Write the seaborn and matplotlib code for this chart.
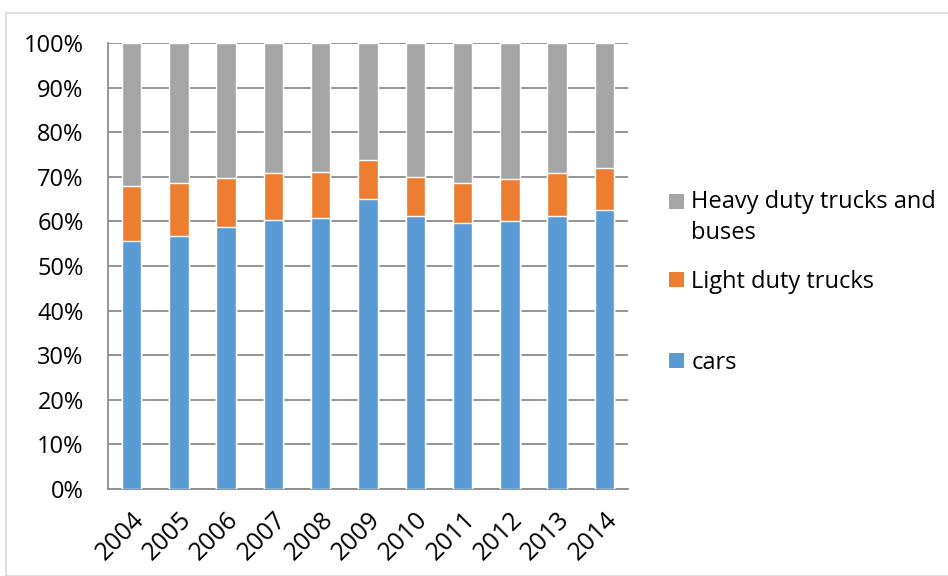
import matplotlib
matplotlib.use("Agg")
import matplotlib.pyplot as plt
import seaborn as sns
import pandas as pd
import numpy as np
from matplotlib.patches import Patch, Rectangle
from matplotlib.legend_handler import HandlerPatch

years = ["2004", "2005", "2006", "2007", "2008", "2009", "2010", "2011", "2012", "2013", "2014"]
cars = [55.5, 56.7, 58.8, 60.4, 60.8, 65.0, 61.1, 59.7, 60.0, 61.3, 62.5]
light_trucks = [12.5, 11.8, 10.9, 10.5, 10.3, 8.7, 8.8, 8.9, 9.4, 9.6, 9.5]
heavy_trucks = [32.0, 31.5, 30.3, 29.1, 28.9, 26.3, 30.1, 31.4, 30.6, 29.1, 28.0]

series_names = ["Heavy duty trucks and\nbuses", "Light duty trucks", "cars"]
colors = ["#A5A5A5", "#ED7D31", "#5B9BD5"]

sns.set_style("white")
plt.rcParams["font.family"] = ["Open Sans", "DejaVu Sans"]
FS = 17

df = pd.DataFrame({"year": years, "cars": cars, "light": light_trucks, "heavy": heavy_trucks})
df["top_light"] = df["cars"] + df["light"]
df["top_heavy"] = df["top_light"] + df["heavy"]

fig = plt.figure(figsize=(9.48, 5.76), dpi=100)
ax = fig.add_axes([108 / 948, 1 - 489 / 576, (628 - 108) / 948, (489 - 43) / 576])

w = 0.41
sns.barplot(data=df, x="year", y="top_heavy", color=colors[0], width=w, saturation=1, ax=ax, zorder=3)
sns.barplot(data=df, x="year", y="top_light", color=colors[1], width=w, saturation=1, ax=ax, zorder=3)
sns.barplot(data=df, x="year", y="cars", color=colors[2], width=w, saturation=1, ax=ax, zorder=3)

ax.set_xlim(-0.5, len(years) - 0.5)
ax.set_ylim(0, 100)
ax.set_yticks(np.arange(0, 101, 10))
ax.set_yticklabels([f"{v}%" for v in range(0, 101, 10)])
ax.yaxis.grid(True, color="#8C8C8C", linewidth=1.3, zorder=0)
ax.set_axisbelow(True)
ax.set_xlabel("")
ax.set_ylabel("")

for s in ["top", "right"]:
    ax.spines[s].set_visible(False)
for s in ["left", "bottom"]:
    ax.spines[s].set_color("#8C8C8C")
    ax.spines[s].set_linewidth(1.3)

ax.set_xticks(np.arange(-0.5, len(years), 1.0), minor=True)
ax.tick_params(axis="x", which="minor", length=6, width=1.3, color="#8C8C8C", direction="out")
ax.tick_params(axis="x", which="major", length=0, labelsize=18, pad=13, labelcolor="black")
ax.tick_params(axis="y", which="major", length=6.5, width=1.3, color="#8C8C8C", direction="out",
               labelsize=FS, pad=11, labelcolor="black")
plt.setp(ax.get_xticklabels(), rotation=45, ha="right", rotation_mode="anchor")


class FirstLineHandler(HandlerPatch):
    def __init__(self, shift, **kw):
        super().__init__(**kw)
        self.shift = shift

    def create_artists(self, legend, orig_handle, xdescent, ydescent, width, height, fontsize, trans):
        r = Rectangle((-xdescent, -ydescent + self.shift), width, height,
                      facecolor=orig_handle.get_facecolor(), edgecolor="none")
        r.set_transform(trans)
        return [r]


handles = [Patch(facecolor=c, edgecolor="none") for c in colors]
centers = [217.5, 282, 363]
for i, (h, lab, cy) in enumerate(zip(handles, series_names, centers)):
    hmap = {h: FirstLineHandler(12.0)} if i == 0 else {}
    leg = fig.legend([h], [lab], loc="center left", bbox_to_anchor=(669 / 948, 1 - cy / 576),
                     frameon=False, fontsize=FS, handlelength=0.63, handleheight=0.63,
                     handletextpad=0.32, borderaxespad=0, borderpad=0, handler_map=hmap)
    for t in leg.get_texts():
        t.set_linespacing(1.4)
        t.set_color("black")

fig.patches.append(Rectangle((6 / 948, 0), 1, 1 - 13 / 576, transform=fig.transFigure,
                             fill=False, edgecolor="#D9D9D9", linewidth=1.2))

fig.savefig("out.png", dpi=100)
